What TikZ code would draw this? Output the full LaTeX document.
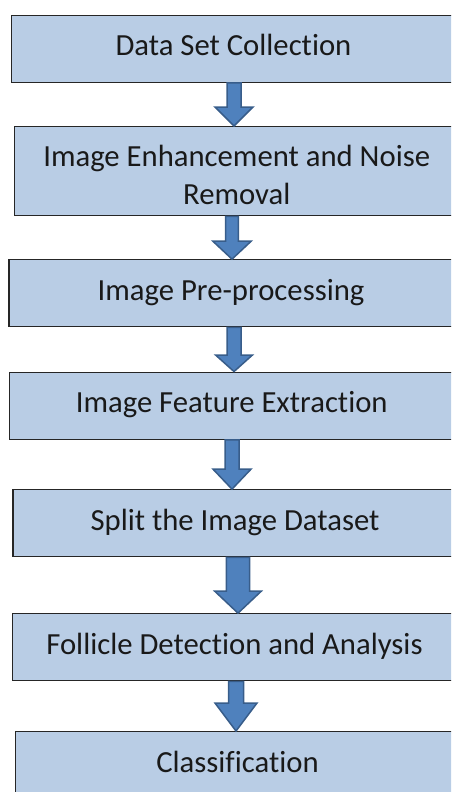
\documentclass[tikz,border=0pt]{standalone}
\usepackage{fontspec}
\setmainfont{Carlito}[Ligatures=NoCommon]
\usetikzlibrary{positioning,calc}

\definecolor{stagefill}{HTML}{B9CDE5}
\definecolor{arrowfill}{HTML}{4F81BD}
\definecolor{arrowline}{HTML}{385D8A}

\tikzset{
  stage/.style={rectangle, draw=black!85, line width=1.3pt, fill=stagefill,
    minimum width=444pt, minimum height=67pt, inner sep=0pt,
    text height=19pt, text depth=5pt, text=black!90,
    font=\fontsize{30.7pt}{37.5pt}\selectfont},
  flow/.style={draw=arrowline, fill=arrowfill, line width=1.5pt, line join=miter}
}

\begin{document}
\begin{tikzpicture}[x=1pt, y=-1pt, on grid]
  \useasboundingbox (0,0) rectangle (451,792);
  \clip (0,0) rectangle (451,792);

  \node[stage]  (collect)                                   at (233.5,48.8) {Data Set Collection};
  \node[stage, minimum height=89pt, text height=71pt, text depth=5pt, align=center]
                (enhance)  [below=122.4pt of collect, xshift=3.2pt]  {Image Enhancement and Noise\\Removal};
  \node[stage]  (preproc)  [below=122.1pt of enhance, xshift=-5.7pt] {Image Pre-processing};
  \node[stage]  (feature)  [below=112.4pt of preproc, xshift=0.7pt]  {Image Feature Extraction};
  \node[stage]  (split)    [below=117.6pt of feature, xshift=3.3pt]  {Split the Image Dataset};
  \node[stage]  (follicle) [below=124pt of split, xshift=-0.5pt]     {Follicle Detection and Analysis};
  \node[stage]  (classify) [below=117.9pt of follicle, xshift=3pt]   {Classification};

  % block arrows: from/to/centre x/half shaft/half head/head length
  \foreach \from/\to/\ax/\sw/\hw/\hl in {
      collect/enhance/234/7/19/19,
      enhance/preproc/232/6.4/19.2/18,
      preproc/feature/234/7/18.4/16.5,
      feature/split/232/7/19/20,
      split/follicle/238/11.7/23.3/22,
      follicle/classify/236/7.5/21/28}
    \draw[flow] (\ax-\sw,0 |- \from.south) -- (\ax+\sw,0 |- \from.south)
      -- ($(\ax+\sw,0 |- \to.north)+(0,-\hl)$) -- ($(\ax+\hw,0 |- \to.north)+(0,-\hl)$)
      -- (\ax,0 |- \to.north)
      -- ($(\ax-\hw,0 |- \to.north)+(0,-\hl)$) -- ($(\ax-\sw,0 |- \to.north)+(0,-\hl)$)
      -- cycle;
\end{tikzpicture}
\end{document}
